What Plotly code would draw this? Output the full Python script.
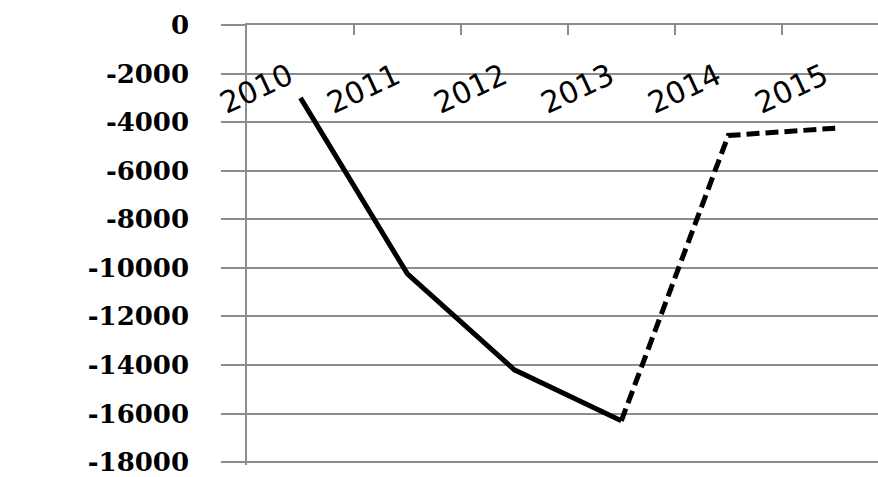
import plotly.graph_objects as go

# Data
years = ["2010", "2011", "2012", "2013", "2014", "2015"]
values = [-3000, -10250, -14200, -16300, -4550, -4250]
solid_years = years[:4]
solid_values = values[:4]
dashed_years = years[3:]
dashed_values = values[3:]
y_ticks = [0, -2000, -4000, -6000, -8000, -10000, -12000, -14000, -16000, -18000]

GRID = "#8c8c8c"

fig = go.Figure()
fig.add_trace(go.Scatter(
    x=solid_years, y=solid_values, mode="lines",
    line=dict(color="black", width=5), showlegend=False, hoverinfo="skip"))
fig.add_trace(go.Scatter(
    x=dashed_years, y=dashed_values, mode="lines",
    line=dict(color="black", width=5, dash="13px,6px"), showlegend=False, hoverinfo="skip"))

for i, yr in enumerate(years):
    fig.add_annotation(
        x=i, y=-2600, xref="x", yref="y", text=yr, showarrow=False,
        textangle=-25, xanchor="center", yanchor="middle", xshift=-44,
        font=dict(family="DejaVu Sans", size=30, color="black"))

fig.update_layout(
    width=878, height=477,
    margin=dict(l=247, r=0, t=25, b=12, autoexpand=False),
    paper_bgcolor="white", plot_bgcolor="white",
    xaxis=dict(
        type="category", categoryorder="array", categoryarray=years,
        range=[-0.5, 5.4], side="top", showline=True, linecolor=GRID, linewidth=1.5,
        ticks="inside", ticklen=10, tickcolor=GRID, tickwidth=1.5, automargin=False,
        tickson="boundaries", showgrid=False, showticklabels=False, zeroline=False),
    yaxis=dict(
        range=[-18120, 0], tickvals=y_ticks, ticktext=[str(v) for v in y_ticks],
        showgrid=True, gridcolor=GRID, gridwidth=1.5, zeroline=False,
        showline=True, linecolor=GRID, linewidth=1.5, automargin=False,
        ticks="outside", ticklen=24, tickcolor=GRID, tickwidth=1.5,
        ticklabelstandoff=27, ticklabeloverflow="allow",
        tickfont=dict(family="DejaVu Serif", size=26, color="black", weight="bold")),
)

fig.write_html(
    "out.html",
    config={"displayModeBar": False},
    post_script="document.body.style.margin='0';"
                "document.documentElement.style.overflow='hidden';"
                "document.body.style.overflow='hidden';")
